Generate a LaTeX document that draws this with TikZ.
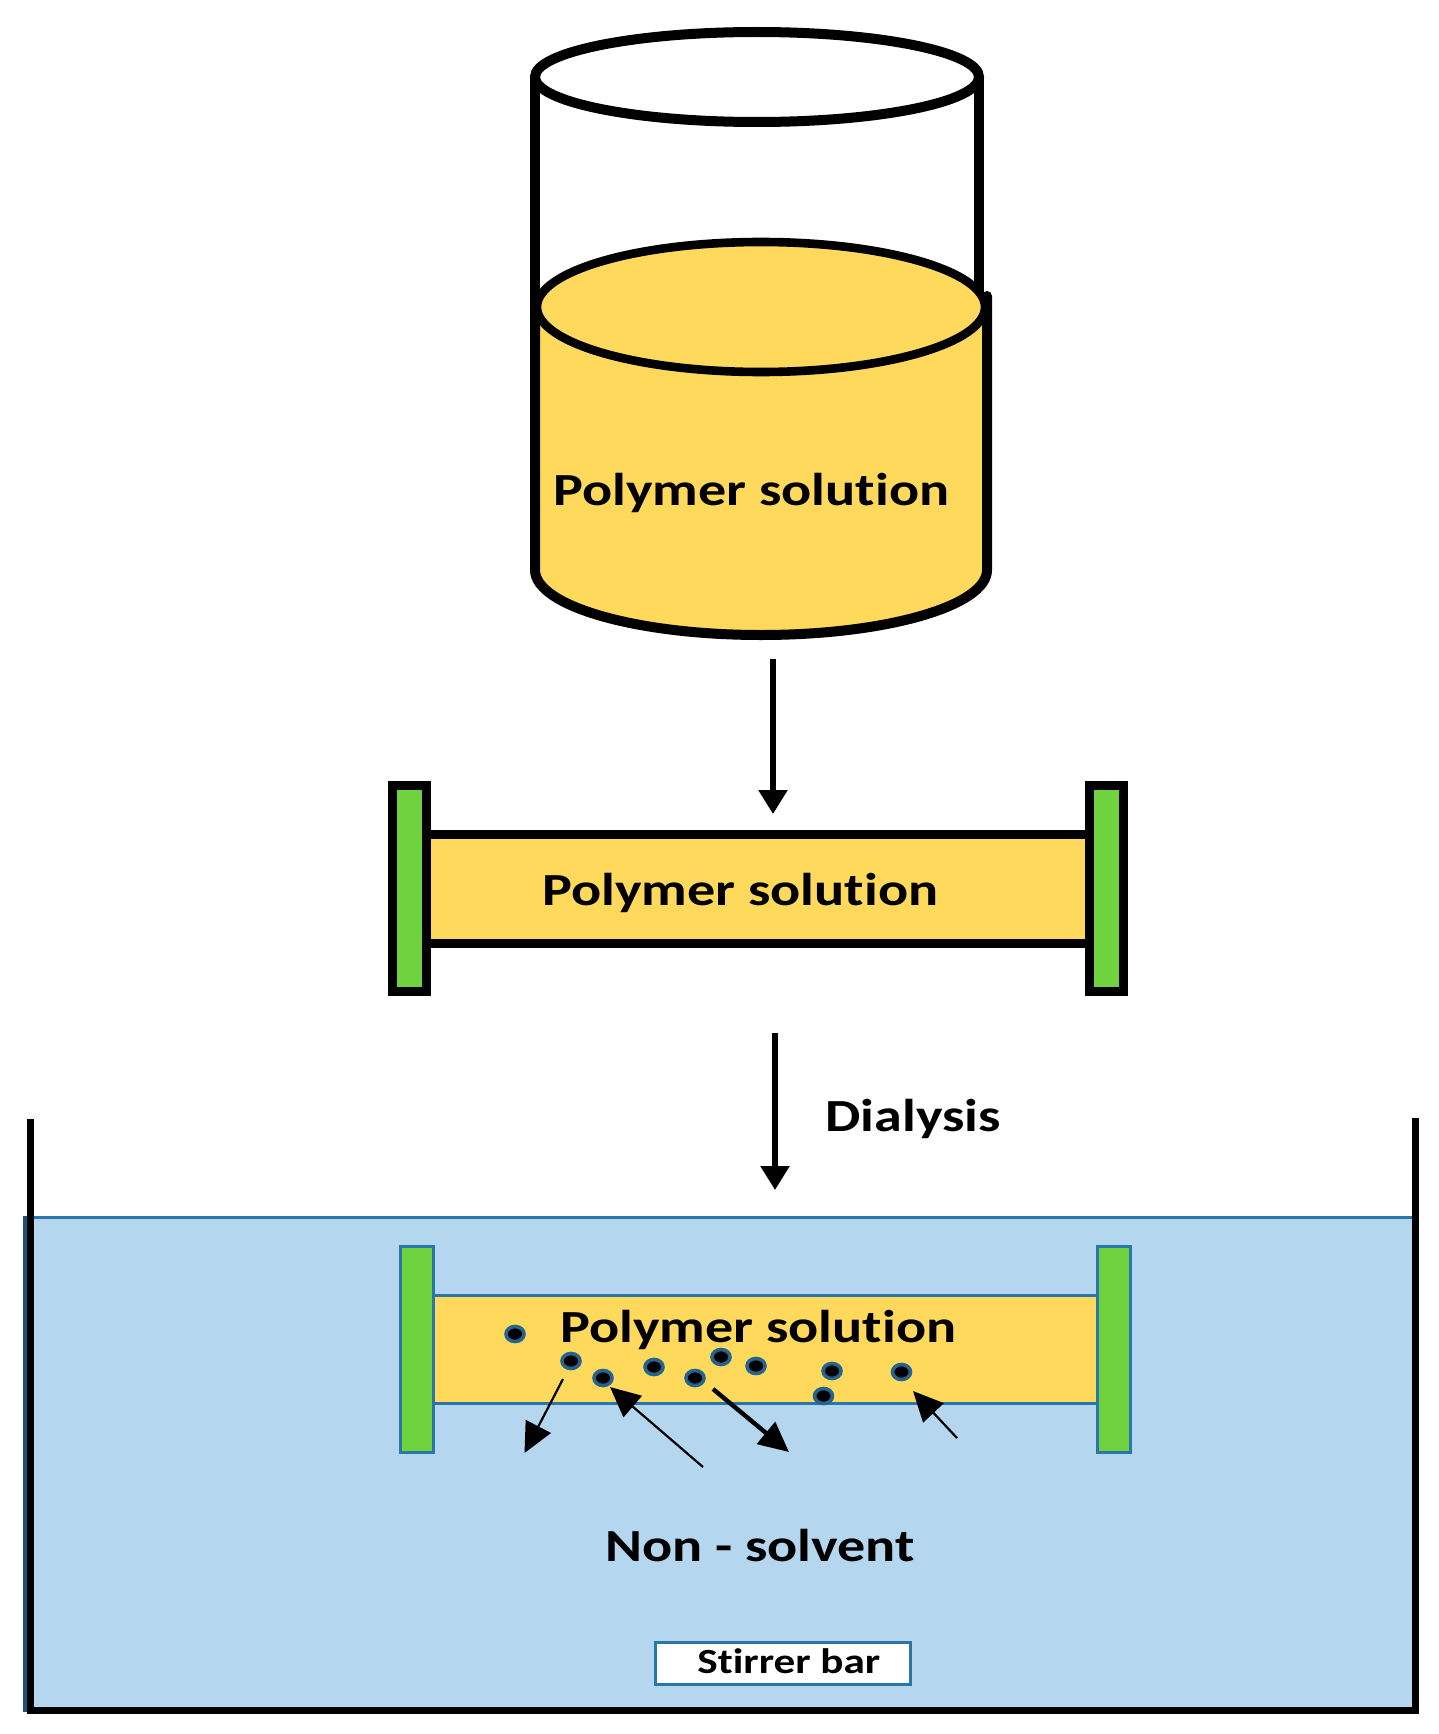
\documentclass[tikz,border=0pt]{standalone}
\usepackage{fontspec}
\setmainfont{Carlito}
\newfontfamily\labelfont[FakeStretch=1.22,Ligatures=NoCommon]{Carlito}
\usetikzlibrary{arrows.meta,shapes.geometric}

\definecolor{solution}{HTML}{FFD95C}
\definecolor{membrane}{HTML}{6FD33F}
\definecolor{water}{HTML}{B4D7EF}
\definecolor{edgeblue}{HTML}{2A76A8}

\tikzset{
  label text/.style={anchor=base west, inner sep=0pt, font=\labelfont\bfseries\fontsize{23}{28}\selectfont},
  glass/.style={draw=black, line width=5pt, line cap=round},
  tubebox/.style={rectangle, fill=solution, inner sep=0pt, outer sep=0pt},
  capbox/.style={rectangle, fill=membrane, inner sep=0pt, outer sep=0pt},
  particle/.style={ellipse, draw=edgeblue!85!black, fill=black, line width=1.8pt, inner sep=0pt, minimum width=9pt, minimum height=7.5pt},
  main arrow/.style={line width=2.75pt, -{Triangle[length=12pt,width=14pt]}},
  thin arrow/.style={line width=1.1pt, -{Triangle[length=15pt,width=14pt]}},
}

\begin{document}
\begin{tikzpicture}[x=0.5pt, y=-0.5pt]
  \useasboundingbox (0,0) rectangle (1439,1734);

  % beaker
  \draw[glass, fill=white] (757,77) ellipse [x radius=222, y radius=45];
  \draw[glass] (535,77) -- (535,320);
  \draw[glass] (979,77) -- (979,300);
  \draw[glass, fill=solution] (535,307) -- (535,570) arc [start angle=180, end angle=0, x radius=226, y radius=65] -- (987,296);
  \draw[glass, line width=4.3pt, fill=solution] (761,307) ellipse [x radius=224, y radius=65];
  \node[label text] (beakerlabel) at (553,505) {Polymer solution};

  % dialysis tube
  \node[tubebox, draw=black, line width=4.5pt, minimum width=348.75pt, minimum height=54.5pt] (tube1) at (758.75,888.5) {};
  \node[capbox, draw=black, line width=4.5pt, minimum width=17pt, minimum height=103pt] (cap1l) at (409.5,888.5) {};
  \node[capbox, draw=black, line width=4.5pt, minimum width=17pt, minimum height=103pt] (cap1r) at (1106.5,888.5) {};
  \node[label text] (tubelabel) at (542,905) {Polymer solution};

  % bath
  \node[rectangle, draw=edgeblue, fill=water, line width=1.5pt, inner sep=0pt, minimum width=696pt, minimum height=246.5pt] (bath) at (720,1463.5) {};
  \fill[edgeblue!70!black] (23,1216) rectangle (28,1712);
  \coordinate (walltopl) at (30,1119);
  \coordinate (walltopr) at (1415,1118);
  \coordinate (wallbotl) at (30,1710);
  \coordinate (wallbotr) at (1415,1710);
  \draw[black, line width=3.5pt] (walltopl) -- (wallbotl) -- (wallbotr) -- (walltopr);

  % tube in the bath
  \node[tubebox, draw=edgeblue, line width=1.5pt, minimum width=349.25pt, minimum height=54pt] (tube2) at (765.25,1349.5) {};
  \node[capbox, draw=edgeblue, line width=1.5pt, minimum width=16.5pt, minimum height=103pt] (cap2l) at (417,1349) {};
  \node[capbox, draw=edgeblue, line width=1.5pt, minimum width=16.5pt, minimum height=103pt] (cap2r) at (1114,1349) {};
  \node[label text] (bathtubelabel) at (560,1342) {Polymer solution};

  \foreach \i/\px/\py in {1/515/1334, 2/571/1361, 3/603/1378, 4/654/1367, 5/695/1378, 6/721/1357, 7/756/1366, 8/832/1371, 9/901.5/1372, 10/823.5/1396}
    \node[particle] (dot\i) at (\px,\py) {};

  % arrows
  \coordinate (a1s) at (773,659);
  \coordinate (a1e) at (773,814);
  \coordinate (a2s) at (775,1033);
  \coordinate (a2e) at (775,1190);
  \draw[main arrow] (a1s) -- (a1e);
  \draw[main arrow] (a2s) -- (a2e);

  \coordinate (p1s) at (563,1379);
  \coordinate (p1e) at (524.5,1453);
  \coordinate (p2s) at (703,1467);
  \coordinate (p2e) at (610,1387);
  \coordinate (p3s) at (713,1389);
  \coordinate (p3e) at (789,1452);
  \coordinate (p4s) at (957,1438);
  \coordinate (p4e) at (913,1391);
  \draw[thin arrow] (p1s) -- (p1e);
  \draw[thin arrow] (p2s) -- (p2e);
  \draw[thin arrow, line width=2.2pt] (p3s) -- (p3e);
  \draw[thin arrow] (p4s) -- (p4e);

  \node[label text] (dialysis) at (825,1131) {Dialysis};
  \node[label text] (nonsolvent) at (605,1561) {Non - solvent};

  \node[rectangle, draw=edgeblue, fill=white, line width=1.5pt, inner sep=0pt, minimum width=127.5pt, minimum height=21pt] (bar) at (783,1663) {};
  \node[label text, font=\labelfont\bfseries\fontsize{17.7}{22}\selectfont] (barlabel) at (697,1673) {Stirrer bar};
\end{tikzpicture}
\end{document}
